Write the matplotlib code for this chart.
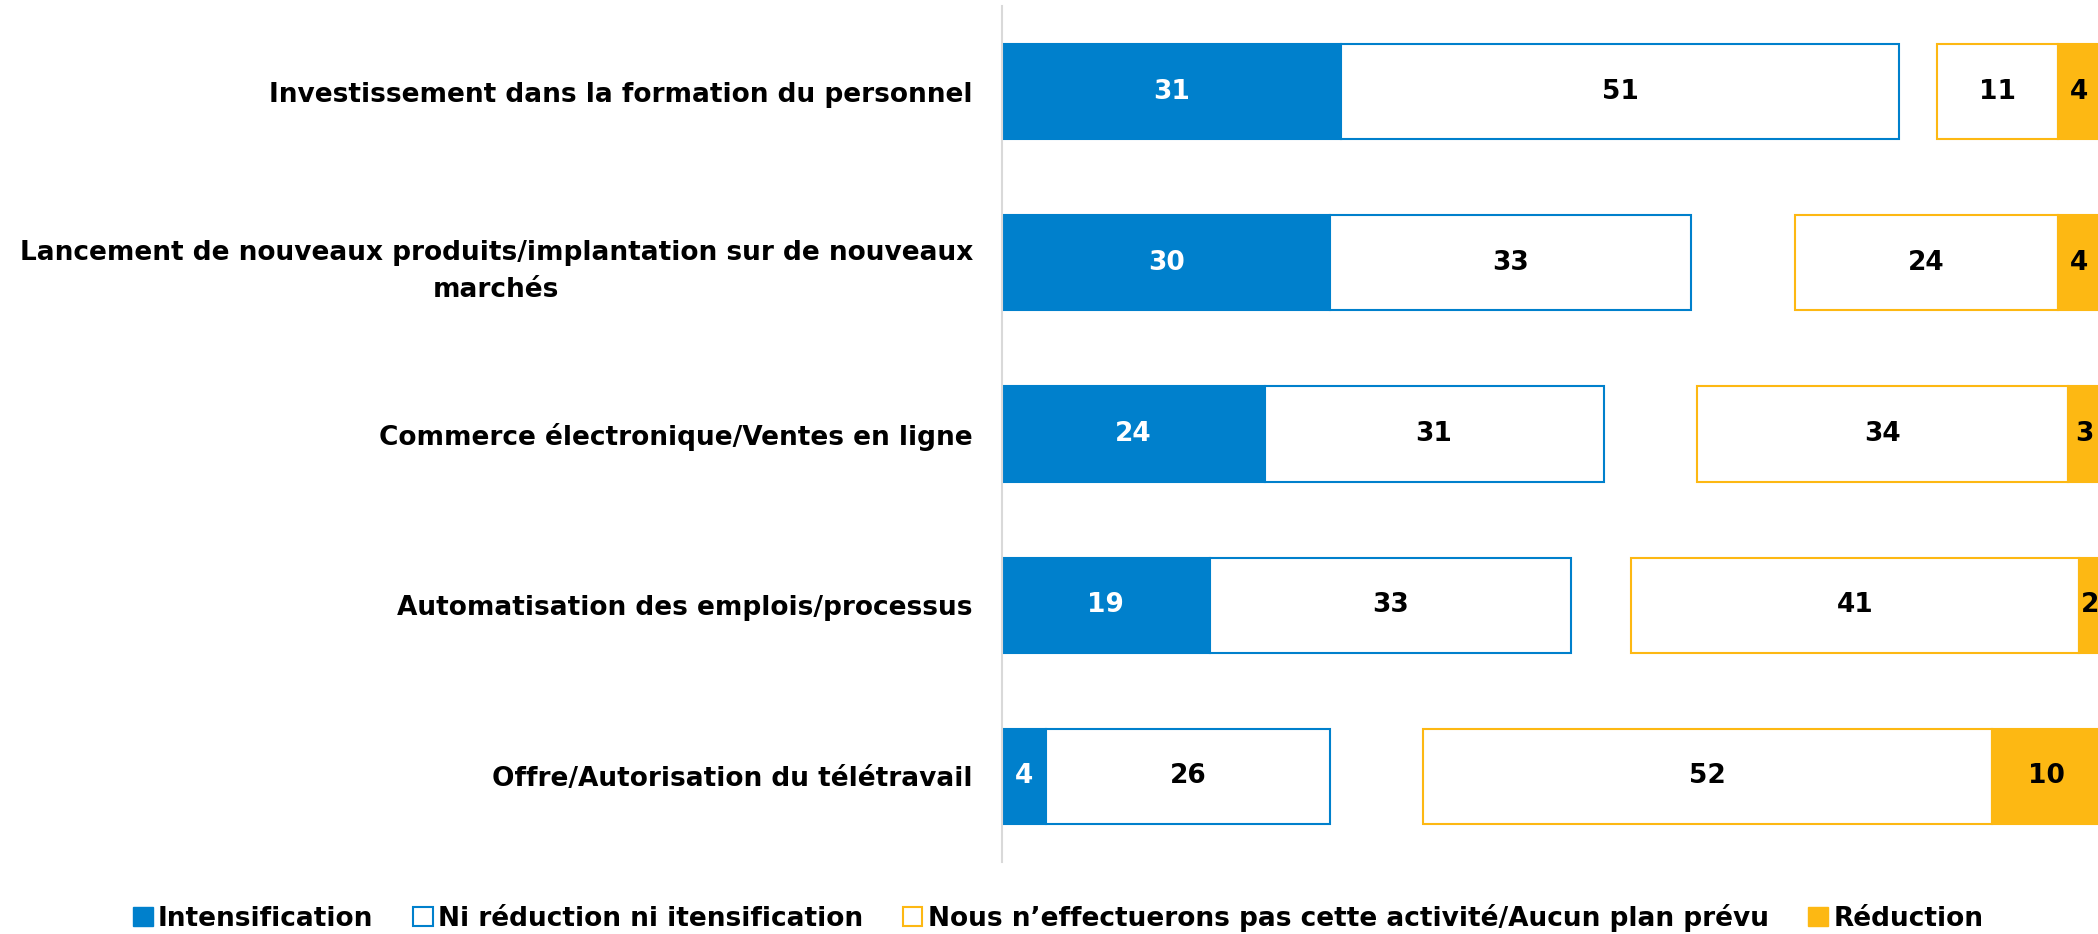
import numpy as np
import matplotlib.pyplot as plt
from matplotlib.patches import Patch

categories = ['Investissement dans la formation du personnel',
              'Lancement de nouveaux produits/implantation sur de nouveaux\nmarchés',
              'Commerce électronique/Ventes en ligne',
              'Automatisation des emplois/processus',
              'Offre/Autorisation du télétravail']
intensification = [31, 30, 24, 19, 4]
ni_ni = [51, 33, 31, 33, 26]
aucun_plan = [11, 24, 34, 41, 52]
reduction = [4, 4, 3, 2, 10]

BLUE = '#0080CC'
YELLOW = '#FDB813'
RIGHT_END = 100.5

fig = plt.figure(figsize=(20.98, 9.34), dpi=100)
ax = fig.add_axes([1002/2098, 1 - 862/934, 1 - 1002/2098, 856/934])

y = np.arange(len(categories))
h = 0.555
inten = np.array(intensification)
ni = np.array(ni_ni)
auc = np.array(aucun_plan)
red = np.array(reduction)
start_right = RIGHT_END - auc - red

ax.barh(y, inten, height=h, color=BLUE, edgecolor=BLUE, linewidth=1.5)
ax.barh(y, ni, left=inten, height=h, color='white', edgecolor=BLUE, linewidth=1.5)
ax.barh(y, auc, left=start_right, height=h, color='white', edgecolor=YELLOW, linewidth=1.5)
ax.barh(y, red, left=start_right + auc, height=h, color=YELLOW, edgecolor=YELLOW, linewidth=1.5)

lab = dict(ha='center', va='center', fontsize=19, fontweight='bold', clip_on=True)
for i in range(len(categories)):
    ax.text(inten[i]/2, y[i], str(inten[i]), color='white', **lab)
    ax.text(inten[i] + ni[i]/2, y[i], str(ni[i]), color='black', **lab)
    ax.text(start_right[i] + auc[i]/2, y[i], str(auc[i]), color='black', **lab)
    ax.text(start_right[i] + auc[i] + red[i]/2, y[i], str(red[i]), color='black', **lab)

ax.set_xlim(0, 100.2)
ax.set_ylim(len(categories) - 0.5, -0.5)
ax.set_yticks(y)
ax.set_yticklabels(categories, fontsize=19, fontweight='bold',
                   multialignment='center', linespacing=1.55)
ax.tick_params(axis='y', length=0, pad=21)
ax.set_xticks([])
for s in ['top', 'right', 'bottom']:
    ax.spines[s].set_visible(False)
ax.spines['left'].set_color('#D9D9D9')
ax.spines['left'].set_linewidth(1.5)

handles = [Patch(facecolor=BLUE, edgecolor=BLUE),
           Patch(facecolor='white', edgecolor=BLUE, linewidth=1.5),
           Patch(facecolor='white', edgecolor=YELLOW, linewidth=1.5),
           Patch(facecolor=YELLOW, edgecolor=YELLOW)]
names = ['Intensification', 'Ni réduction ni itensification',
         'Nous n’effectuerons pas cette activité/Aucun plan prévu', 'Réduction']
fig.legend(handles, names, loc='center', bbox_to_anchor=(1058/2098, 1 - 918/934),
           ncol=4, frameon=False, handlelength=0.75, handleheight=0.75,
           handletextpad=0.2, columnspacing=1.5,
           prop={'size': 19, 'weight': 'bold'})

plt.savefig('out.png', dpi=100)
